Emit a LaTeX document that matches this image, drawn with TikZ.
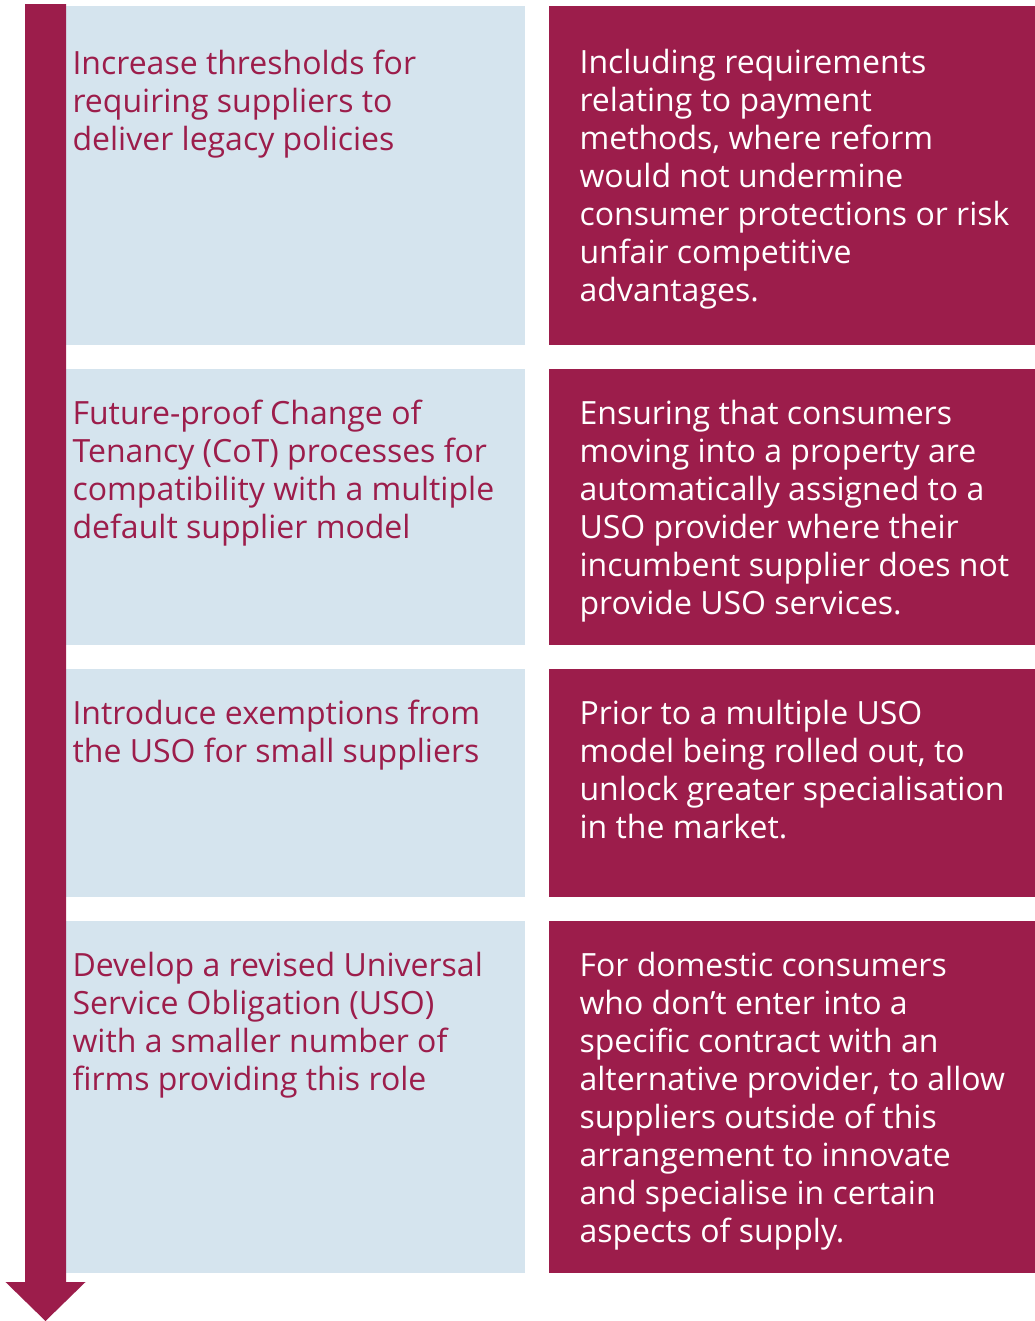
\documentclass[tikz,border=0pt]{standalone}
\usepackage{fontspec}
\setmainfont{Open Sans}
\definecolor{uso}{HTML}{9C1D4B}
\definecolor{paleblue}{HTML}{D5E4EE}
\begin{document}
\begin{tikzpicture}[x=0.75pt,y=-0.75pt,line join=round,
    font=\fontsize{24}{28.5}\selectfont,
    ltext/.style={anchor=north west,inner sep=0pt,align=left,text=uso,
        execute at begin node=\rule{0pt}{20pt}},
    rtext/.style={ltext,text=white}]
    \useasboundingbox (0,0) rectangle (1035,1321);
    % option boxes (left) and reasons (right)
    \fill[paleblue] (66,5.5) rectangle (525,345);
    \fill[paleblue] (66,369) rectangle (525,645);
    \fill[paleblue] (66,669) rectangle (525,896.5);
    \fill[paleblue] (66,921) rectangle (525,1273);
    \fill[uso] (549,5.5) rectangle (1035,345);
    \fill[uso] (549,369) rectangle (1035,645);
    \fill[uso] (549,669) rectangle (1035,896.5);
    \fill[uso] (549,921) rectangle (1035,1273);
    % downward arrow
    \fill[uso] (25,4) -- (66,4) -- (66,1282) -- (85.5,1282) -- (45.5,1321)
        -- (5.5,1282) -- (25,1282) -- cycle;
    % texts (first baseline 20pt below the node top)
    \node[ltext] (thresholds) at (72.3,49.3) {Increase thresholds for\\requiring suppliers to\\deliver legacy policies};
    \node[rtext] (payment) at (579.3,49.3) {Including requirements\\relating to payment\\methods, where reform\\would not undermine\\consumer protections or risk\\unfair competitive\\advantages.};
    \node[ltext] (tenancy) at (72.3,399.8) {Future-proof Change of\\Tenancy (CoT) processes for\\compatibility with a multiple\\default supplier model};
    \node[rtext] (moving) at (579.3,399.8) {Ensuring that consumers\\moving into a property are\\automatically assigned to a\\USO provider where their\\incumbent supplier does not\\provide USO services.};
    \node[ltext] (exempt) at (72.3,699.8) {Introduce exemptions from\\the USO for small suppliers};
    \node[rtext] (prior) at (579.3,699.8) {Prior to a multiple USO\\model being rolled out, to\\unlock greater specialisation\\in the market.};
    \node[ltext] (revised) at (72.3,951.8) {Develop a revised Universal\\Service Obligation (USO)\\with a smaller number of\\firms providing this role};
    \node[rtext] (domestic) at (579.3,951.8) {For domestic consumers\\who don’t enter into a\\specific contract with an\\alternative provider, to allow\\suppliers outside of this\\arrangement to innovate\\and specialise in certain\\aspects of supply.};
\end{tikzpicture}
\end{document}
